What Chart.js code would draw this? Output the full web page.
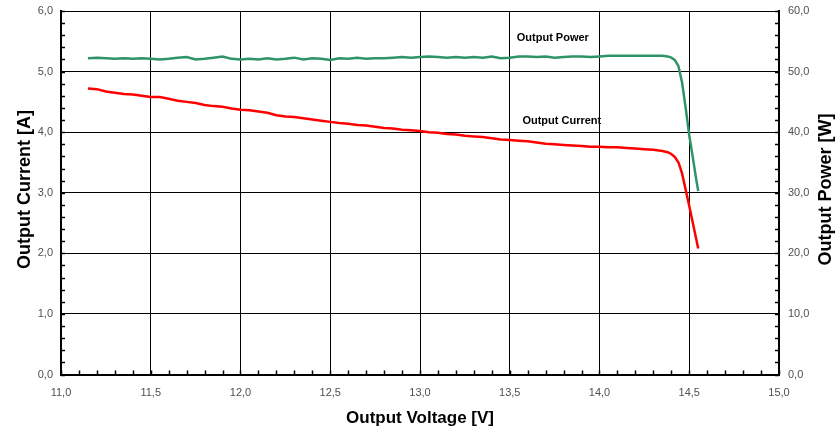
<!DOCTYPE html>
<html>
<head>
<meta charset="utf-8">
<script src="https://cdn.jsdelivr.net/npm/chart.js@4.4.1/dist/chart.umd.min.js"></script>
<style>
  html, body { margin: 0; padding: 0; background: #fff; }
  #wrap { width: 838px; height: 434px; }
</style>
</head>
<body>
<div id="wrap"><canvas id="chart" width="838" height="434"></canvas></div>
<script>
// measured output voltage [V]
const voltage = [
    11.15, 11.20, 11.25, 11.30, 11.35, 11.40, 11.45, 11.50, 11.55, 11.60,
    11.65, 11.70, 11.75, 11.80, 11.85, 11.90, 11.95, 12.00, 12.05, 12.10,
    12.15, 12.20, 12.25, 12.30, 12.35, 12.40, 12.45, 12.50, 12.55, 12.60,
    12.65, 12.70, 12.75, 12.80, 12.85, 12.90, 12.95, 13.00, 13.05, 13.10,
    13.15, 13.20, 13.25, 13.30, 13.35, 13.40, 13.45, 13.50, 13.55, 13.60,
    13.65, 13.70, 13.75, 13.80, 13.85, 13.90, 13.95, 14.00, 14.05, 14.10,
    14.15, 14.20, 14.25, 14.30, 14.35, 14.38, 14.40, 14.42, 14.44, 14.46,
    14.48, 14.50, 14.52, 14.54, 14.55
];
// output current [A]
const current = [
    4.72, 4.71, 4.67, 4.65, 4.63, 4.62, 4.60, 4.58, 4.58, 4.55,
    4.52, 4.50, 4.48, 4.45, 4.43, 4.42, 4.39, 4.37, 4.36, 4.34,
    4.32, 4.28, 4.26, 4.25, 4.23, 4.21, 4.19, 4.17, 4.15, 4.14,
    4.12, 4.11, 4.09, 4.07, 4.06, 4.04, 4.03, 4.02, 4.00, 3.99,
    3.97, 3.96, 3.94, 3.93, 3.92, 3.90, 3.88, 3.87, 3.86, 3.85,
    3.83, 3.81, 3.80, 3.79, 3.78, 3.77, 3.76, 3.76, 3.75, 3.75,
    3.74, 3.73, 3.72, 3.71, 3.69, 3.67, 3.64, 3.59, 3.50, 3.32,
    3.05, 2.78, 2.50, 2.22, 2.08
];
// output power [W]
const power = [
    52.2, 52.3, 52.2, 52.1, 52.2, 52.1, 52.2, 52.1, 52.0, 52.1,
    52.3, 52.4, 52.0, 52.1, 52.3, 52.5, 52.1, 52.0, 52.1, 52.0,
    52.2, 52.0, 52.1, 52.3, 52.0, 52.2, 52.1, 51.9, 52.2, 52.1,
    52.3, 52.1, 52.2, 52.2, 52.3, 52.4, 52.3, 52.4, 52.5, 52.4,
    52.3, 52.4, 52.3, 52.4, 52.3, 52.5, 52.2, 52.3, 52.5, 52.5,
    52.4, 52.5, 52.3, 52.4, 52.5, 52.5, 52.4, 52.5, 52.6, 52.6,
    52.6, 52.6, 52.6, 52.6, 52.6, 52.5, 52.3, 51.9, 50.9, 48.2,
    44.0, 39.5, 35.8, 32.0, 30.3
];

const xRange = [11, 15, 0.5, 0.1];     // min, max, major step, minor step
const currentRange = [0, 6, 1, 0.2];
const powerRange = [0, 60, 10, 2];

const seriesLabels = [
    { text: 'Output Power', x: 13.74, y: 5.56 },
    { text: 'Output Current', x: 13.79, y: 4.19 }
];

const fmt = v => v.toFixed(1).replace('.', ',');
const tickFont = { family: 'Liberation Sans, Arial, sans-serif', size: 11 };
const tickColor = '#505050';
const titleFont = 'Liberation Sans, Arial, sans-serif';

const points = vals => voltage.map((v, i) => ({ x: v, y: vals[i] }));

// y scales: fixed width, no extra room for the top label overhang
const fitY = w => s => { s.width = w; s.paddingTop = 0; s.paddingBottom = 0; };

// inward minor ticks, titles and in-plot labels
const decorations = {
    id: 'decorations',
    afterDraw(chart) {
        const ctx = chart.ctx;
        const area = chart.chartArea;
        const sx = chart.scales.x, sy = chart.scales.y, sy1 = chart.scales.y1;
        ctx.save();
        ctx.strokeStyle = '#000';
        ctx.lineWidth = 1.5;
        ctx.beginPath();
        for (let v = xRange[0]; v <= xRange[1] + 1e-9; v += xRange[3]) {
            const px = Math.round(sx.getPixelForValue(v)) + 0.5;
            ctx.moveTo(px, area.bottom);
            ctx.lineTo(px, area.bottom - 4);
        }
        for (let v = currentRange[0]; v <= currentRange[1] + 1e-9; v += currentRange[3]) {
            const py = Math.round(sy.getPixelForValue(v)) + 0.5;
            ctx.moveTo(area.left, py);
            ctx.lineTo(area.left + 4, py);
        }
        for (let v = powerRange[0]; v <= powerRange[1] + 1e-9; v += powerRange[3]) {
            const py = Math.round(sy1.getPixelForValue(v)) + 0.5;
            ctx.moveTo(area.right, py);
            ctx.lineTo(area.right - 4, py);
        }
        ctx.stroke();

        ctx.fillStyle = '#000';
        ctx.font = 'bold 11px ' + titleFont;
        ctx.textAlign = 'center';
        ctx.textBaseline = 'middle';
        seriesLabels.forEach(l => {
            ctx.fillText(l.text, sx.getPixelForValue(l.x), sy.getPixelForValue(l.y));
        });

        ctx.textBaseline = 'alphabetic';
        ctx.font = 'bold 17px ' + titleFont;
        ctx.fillText('Output Voltage [V]', (area.left + area.right) / 2, 423);
        const midY = 189.5;
        ctx.font = 'bold 18px ' + titleFont;
        ctx.save();
        ctx.translate(29.5, midY);
        ctx.rotate(-Math.PI / 2);
        ctx.fillText('Output Current [A]', 0, 0);
        ctx.restore();
        ctx.save();
        ctx.translate(831, midY);
        ctx.rotate(-Math.PI / 2);
        ctx.fillText('Output Power [W]', 0, 0);
        ctx.restore();
        ctx.restore();
    }
};

new Chart(document.getElementById('chart'), {
    type: 'line',
    data: {
        datasets: [
            {
                label: 'Output Current',
                data: points(current),
                yAxisID: 'y',
                borderColor: '#ff0000',
                borderWidth: 2.5,
                pointRadius: 0,
                tension: 0
            },
            {
                label: 'Output Power',
                data: points(power),
                yAxisID: 'y1',
                borderColor: '#2e9467',
                borderWidth: 2.5,
                pointRadius: 0,
                tension: 0
            }
        ]
    },
    options: {
        responsive: false,
        animation: false,
        layout: { padding: { top: 11, left: 0, right: 0, bottom: 0 } },
        plugins: { legend: { display: false }, tooltip: { enabled: false } },
        scales: {
            x: {
                type: 'linear',
                min: xRange[0], max: xRange[1],
                afterFit: s => { s.height = 59.5; s.paddingLeft = 0; s.paddingRight = 0; },
                ticks: { stepSize: xRange[2], callback: fmt, font: tickFont, color: tickColor, padding: 12, maxRotation: 0 },
                grid: { color: '#000', lineWidth: 1, drawTicks: false },
                border: { color: '#000', width: 2 }
            },
            y: {
                position: 'left',
                min: currentRange[0], max: currentRange[1],
                afterFit: fitY(61),
                ticks: { stepSize: currentRange[2], callback: fmt, font: tickFont, color: tickColor, padding: 8 },
                grid: { color: '#000', lineWidth: 1, drawTicks: false },
                border: { color: '#000', width: 2 }
            },
            y1: {
                position: 'right',
                min: powerRange[0], max: powerRange[1],
                afterFit: fitY(59),
                ticks: { stepSize: powerRange[2], callback: fmt, font: tickFont, color: tickColor, padding: 9 },
                grid: { drawOnChartArea: false, drawTicks: false },
                border: { color: '#000', width: 2 }
            }
        }
    },
    plugins: [decorations]
});
</script>
</body>
</html>
